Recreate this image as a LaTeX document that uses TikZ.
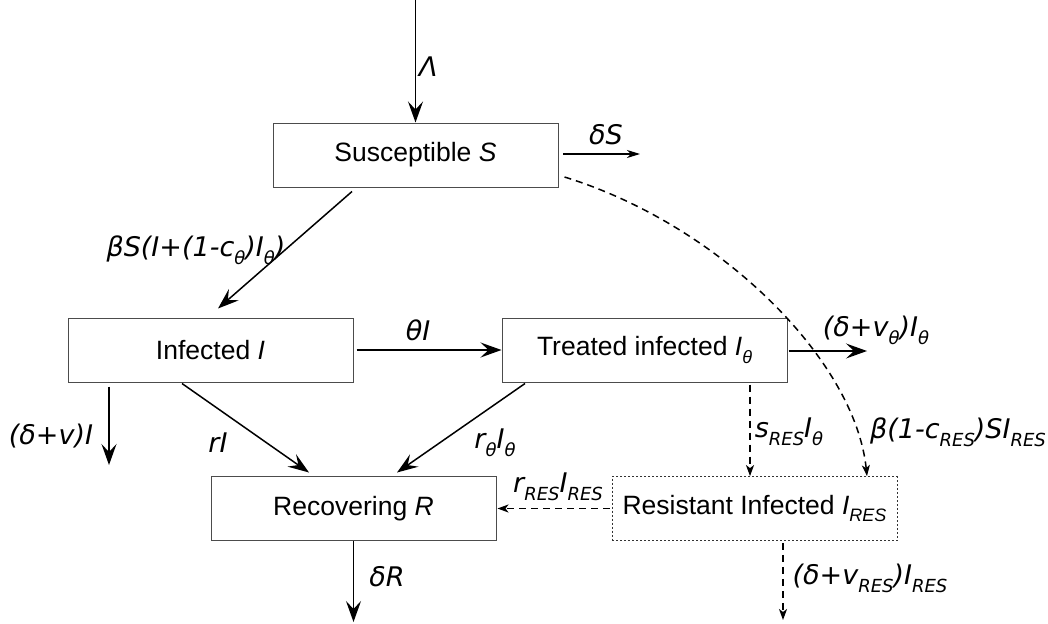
\documentclass[tikz,border=0pt]{standalone}
\usepackage{fontspec}
\setmainfont{Liberation Sans}
\newfontfamily\labfont{DejaVu Sans}
\usetikzlibrary{arrows.meta}
\newcommand{\lsub}[1]{\raisebox{-0.3em}{\fontsize{18}{18}\selectfont #1}}
\begin{document}
\begin{tikzpicture}[x=1pt,y=-1pt,
  box/.style={draw=black!70, line width=1pt, minimum width=285pt, minimum height=64pt, inner sep=0pt, font=\fontsize{26.5}{30}\selectfont},
  lab/.style={font=\labfont\itshape\fontsize{27}{30}\selectfont, inner sep=0pt},
  flow/.style={line width=1.5pt, -{Stealth[length=21pt,width=15pt,inset=8pt]}},
  thinflow/.style={line width=1.2pt, -{Stealth[length=13pt,width=8pt,inset=4pt]}},
  dflow/.style={line width=1.5pt, dash pattern=on 7pt off 5pt, -{Stealth[length=11pt,width=8pt,inset=3pt]}}
]
\useasboundingbox (0,0) rectangle (1048,623);

% boxes
\node[box] (S) at (415.5,155) {Susceptible \textit{S}};
\node[box] (I) at (210.5,350) {Infected \textit{I}};
\node[box] (T) at (644.5,350) {Treated infected \textit{I\lsub{θ}}};
\node[box] (R) at (353.5,508.5) {Recovering \textit{R}};
\node[box, draw=black!80, line width=0.8pt, dash pattern=on 2pt off 2pt] (Q) at (754.5,508.5) {Resistant Infected \textit{I\lsub{RES}}};

% free ends
\coordinate (top) at (415.5,0);
\coordinate (dS0) at (563,154);
\coordinate (dS) at (640,154);
\coordinate (dT) at (867,351);
\coordinate (dI) at (109,465);
\coordinate (dR) at (353.5,622);
\coordinate (dQ) at (783,620);

% solid flows
\draw[flow] (top) -- (S.north);
\draw[thinflow] (dS0) -- (dS);
\draw[flow] ([xshift=-63.5pt,yshift=-4pt]S.south) -- ([xshift=7.5pt,yshift=9pt]I.north);
\draw[flow] ([xshift=3pt]I.east) -- (T.west);
\draw[flow] ([xshift=1pt,yshift=-1pt]T.east) -- (dT);
\draw[flow] ([xshift=-101.5pt,yshift=-4pt]I.south) -- (dI);
\draw[flow] ([xshift=-28.5pt,yshift=-1pt]I.south) -- ([xshift=-44.5pt,yshift=3.5pt]R.north);
\draw[flow] ([xshift=-119.5pt,yshift=-1pt]T.south) -- ([xshift=43.5pt,yshift=3.5pt]R.north);
\draw[flow] (R.south) -- (dR);

% dashed flows
\draw[dflow] ([xshift=-2pt]Q.west) -- ([xshift=1pt]R.east);
\draw[dflow] ([xshift=105.5pt,yshift=-2pt]T.south) -- ([xshift=-4.5pt]Q.north);
\draw[dflow] ([xshift=28.5pt,yshift=-2pt]Q.south) -- (dQ);
\draw[dflow] ([xshift=6pt,yshift=-22pt]S.east) .. controls (720,225) and (855,360) .. ([xshift=112.5pt]Q.north);

% labels
\node[lab, anchor=west] at (419,67) {Λ};
\node[lab] at (606,135) {δS};
\node[lab] at (196,250) {βS(I+(1-c\lsub{θ})I\lsub{θ})};
\node[lab] at (418,330) {θI};
\node[lab] at (876,330) {(δ+v\lsub{θ})I\lsub{θ}};
\node[lab] at (51,436) {(δ+v)I};
\node[lab] at (218,443) {rI};
\node[lab] at (495,443) {r\lsub{θ}I\lsub{θ}};
\node[lab] at (387,577) {δR};
\node[lab] at (558,487) {r\lsub{RES}I\lsub{RES}};
\node[lab] at (789,432) {s\lsub{RES}I\lsub{θ}};
\node[lab] at (958,432) {β(1-c\lsub{RES})SI\lsub{RES}};
\node[lab] at (870,578) {(δ+v\lsub{RES})I\lsub{RES}};
\end{tikzpicture}
\end{document}
